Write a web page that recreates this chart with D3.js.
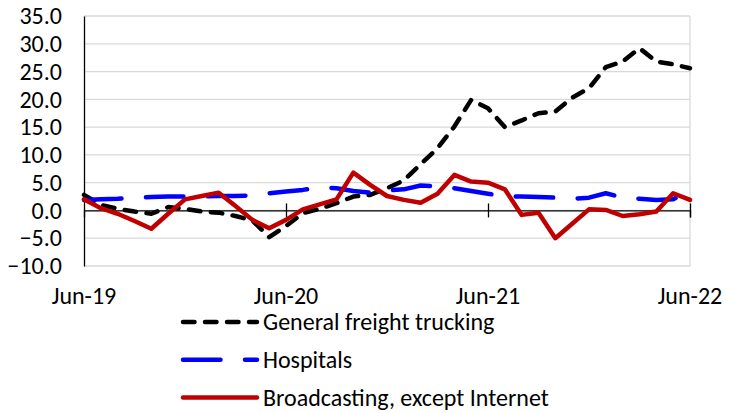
<!DOCTYPE html>
<html>
<head>
<meta charset="utf-8">
<script src="https://cdn.jsdelivr.net/npm/d3@7"></script>
<style>
  body { margin: 0; background: #fff; }
  text { font-family: Carlito, Calibri, Lato, sans-serif; fill: #000; }
</style>
</head>
<body>
<div id="chart"></div>
<script>
// month index 0 = Jun-19 ... 36 = Jun-22
let tickLabels = ["Jun-19", "Jun-20", "Jun-21", "Jun-22"];
let tickIndex = [0, 12, 24, 36];
let yTicks = [-10, -5, 0, 5, 10, 15, 20, 25, 30, 35];

let seriesNames = ["General freight trucking", "Hospitals", "Broadcasting, except Internet"];

let trucking = [2.8, 1.0, 0.3, -0.2, -0.6, 0.6, 0.3, -0.2, -0.4, -1.0, -1.8, -4.8, -2.8,
  -0.5, 0.3, 1.3, 2.5, 2.8, 4.0, 5.4, 8.3, 11.2, 15.1, 19.9, 18.4,
  15.0, 16.2, 17.5, 17.8, 20.3, 22.0, 25.8, 26.8, 29.2, 26.8, 26.3, 25.6];

let hospitals = [1.9, 2.0, 2.1, 2.3, 2.4, 2.5, 2.5, 2.5, 2.6, 2.6, 2.7, 3.1, 3.4,
  3.7, 4.1, 4.0, 3.5, 3.2, 3.6, 3.8, 4.5, 4.3, 4.0, 3.5, 3.0,
  2.5, 2.5, 2.4, 2.3, 2.1, 2.3, 3.1, 2.3, 2.1, 1.9, 2.0, 3.7];

let broadcasting = [2.0, 0.4, -0.6, -1.9, -3.3, -0.6, 2.0, 2.6, 3.2, 0.8, -1.7, -3.2, -1.7,
  0.2, 1.1, 2.0, 6.8, 4.6, 2.6, 1.9, 1.4, 3.0, 6.4, 5.2, 5.0,
  3.8, -0.8, -0.4, -5.0, -2.4, 0.2, 0.1, -1.0, -0.7, -0.2, 3.1, 1.9];

let svgWidth = 735;
let svgHeight = 413;
let margin = { top: 16, right: 45, bottom: 147, left: 84 };
let width = svgWidth - margin.left - margin.right;
let height = svgHeight - margin.top - margin.bottom;

let svg = d3.select("#chart").append("svg")
  .attr("width", svgWidth)
  .attr("height", svgHeight);

svg.append("rect").attr("width", svgWidth).attr("height", svgHeight).attr("fill", "#fff");

let chartGroup = svg.append("g")
  .attr("transform", `translate(${margin.left}, ${margin.top})`);

let xScale = d3.scaleLinear().domain([0, 36]).range([0, width]);
let yScale = d3.scaleLinear().domain([-10, 35]).range([height, 0]);

// gridlines
chartGroup.append("g")
  .selectAll("line")
  .data(yTicks)
  .enter()
  .append("line")
  .attr("x1", 0)
  .attr("x2", width)
  .attr("y1", d => yScale(d))
  .attr("y2", d => yScale(d))
  .attr("stroke", "#d9d9d9")
  .attr("stroke-width", 1.3);

// plot border (right side)
chartGroup.append("line")
  .attr("x1", width).attr("x2", width)
  .attr("y1", 0).attr("y2", height)
  .attr("stroke", "#d9d9d9")
  .attr("stroke-width", 1.3);

// y axis
let yAxis = d3.axisLeft(yScale)
  .tickValues(yTicks)
  .tickSize(0)
  .tickPadding(22)
  .tickFormat(d3.format(".1f"));

let yAxisG = chartGroup.append("g").call(yAxis);
yAxisG.select(".domain").attr("stroke", "#000").attr("stroke-width", 1.3);
yAxisG.selectAll("text").attr("font-size", "24px").attr("font-family", null);

// x axis at zero
let xAxis = d3.axisBottom(xScale)
  .tickValues(tickIndex.slice(1))
  .tickSize(7)
  .tickFormat("");

let xAxisG = chartGroup.append("g")
  .attr("transform", `translate(0, ${yScale(0)})`)
  .call(xAxis);
xAxisG.select(".domain").attr("stroke", "#000").attr("stroke-width", 1.3);
xAxisG.selectAll(".tick line")
  .attr("y1", -7)
  .attr("stroke", "#000")
  .attr("stroke-width", 1.3);

// x labels at bottom
chartGroup.append("g")
  .selectAll("text")
  .data(tickIndex)
  .enter()
  .append("text")
  .attr("x", d => xScale(d))
  .attr("y", height + 38)
  .attr("text-anchor", "middle")
  .attr("font-size", "24px")
  .text((d, i) => tickLabels[i]);

// lines
let line = d3.line()
  .x((d, i) => xScale(i))
  .y(d => yScale(d));

let styles = [
  { data: trucking, color: "#000000", dash: "11.5,10.5" },
  { data: hospitals, color: "#0000ff", dash: "37.5,24.5" },
  { data: broadcasting, color: "#c00000", dash: null }
];

styles.forEach(function(s) {
  chartGroup.append("path")
    .datum(s.data)
    .attr("d", line)
    .attr("fill", "none")
    .attr("stroke", s.color)
    .attr("stroke-width", 4.5)
    .attr("stroke-linecap", "round")
    .attr("stroke-linejoin", "round")
    .attr("stroke-dasharray", s.dash);
});

// legend
let legend = svg.append("g").attr("transform", "translate(183, 322)");

styles.forEach(function(s, i) {
  let row = legend.append("g").attr("transform", `translate(0, ${i * 37.7})`);
  row.append("line")
    .attr("x1", 0).attr("x2", 74)
    .attr("y1", 0).attr("y2", 0)
    .attr("stroke", s.color)
    .attr("stroke-width", 4.5)
    .attr("stroke-linecap", "round")
    .attr("stroke-dasharray", s.dash);
  row.append("text")
    .attr("x", 80)
    .attr("y", 0)
    .attr("dy", "0.35em")
    .attr("font-size", "24px")
    .text(seriesNames[i]);
});
</script>
</body>
</html>
